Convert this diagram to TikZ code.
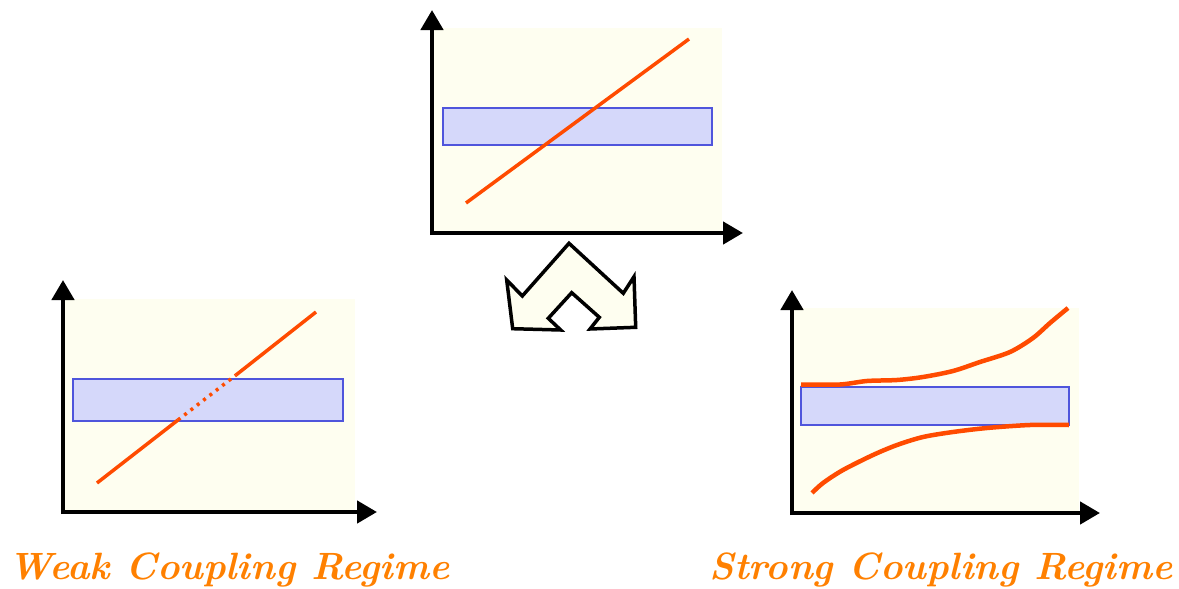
\documentclass[tikz,border=0pt]{standalone}
\usepackage{fontspec}
\usetikzlibrary{arrows.meta}
\definecolor{bgc}{HTML}{FEFEF0}
\definecolor{bandfill}{HTML}{D5D8FA}
\definecolor{banddraw}{HTML}{4F55DC}
\definecolor{curve}{HTML}{FF4B00}
\definecolor{title}{HTML}{FF8000}
\tikzset{
  axis/.style={line width=4.5pt,-{Triangle[length=20pt,width=22pt]}},
  plotbg/.style={fill=bgc,draw=none},
  band/.style={fill=bandfill,draw=banddraw,line width=1.6pt},
  resp/.style={draw=curve,line width=3.5pt},
  rough/.style={draw=curve,line width=4.5pt,line join=round},
  regime/.style={text=title,font=\rmfamily\bfseries\itshape\fontsize{38}{42}\selectfont,anchor=base}
}
\begin{document}
\begin{tikzpicture}[x=1pt,y=-1pt]
\useasboundingbox (0,0) rectangle (1179,589);
% ---------- top panel ----------
\fill[plotbg] (432,28) rectangle (722,233);
\draw[band] (443,108) rectangle (712,145);
\draw[resp] (466,203) -- (689,39);
\draw[axis] (432,235) -- (432,10);
\draw[axis] (430,233) -- (743,233);
% ---------- double arrow ----------
\draw[line width=3.5pt,line join=miter,fill=bgc]
 (569,243.3) -- (623.3,293.3) -- (634,276.7) -- (635.7,327.3) -- (590,329)
 -- (599.3,317.3) -- (571.7,292.7) -- (548.3,318.3) -- (560.7,330)
 -- (512.7,328.7) -- (506.7,280) -- (522.3,296) -- cycle;
% ---------- left panel ----------
\fill[plotbg] (63,299) rectangle (355,512);
\draw[band] (73,379) rectangle (343,421);
\coordinate (w1) at (97,483);
\coordinate (w2) at (178,420);
\coordinate (w3) at (236,375);
\coordinate (w4) at (316,312);
\draw[resp] (w1) -- (w2);
\draw[resp,dash pattern=on 3pt off 5pt] (w2) -- (w3);
\draw[resp] (w3) -- (w4);
\draw[axis] (63,514) -- (63,280);
\draw[axis] (61,512) -- (377,512);
% ---------- right panel ----------
\fill[plotbg] (792,308) rectangle (1079,513);
\draw[band] (801,387) rectangle (1069,425);
\draw[rough] plot[smooth,tension=0.5] coordinates {(801,384.5) (840,384.5) (867,381) (897,380) (923,377) (953,371) (980,362) (1010,352) (1033,338) (1050,323) (1068,308)};
\draw[rough] plot[smooth,tension=0.5] coordinates {(812,493) (823,483) (843,470) (873,455) (897,445) (923,437) (953,432) (987,428) (1030,425) (1069,425)};
\draw[axis] (792,515) -- (792,290);
\draw[axis] (790,513) -- (1100,513);
% ---------- labels ----------
\node[regime] (weak) at (229,579) {Weak Coupling Regime};
\node[regime] (strong) at (941,579) {Strong Coupling Regime};
\end{tikzpicture}
\end{document}
